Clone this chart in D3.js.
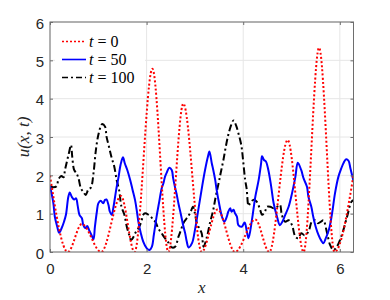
<!DOCTYPE html>
<html><head><meta charset="utf-8">
<script src="https://cdn.jsdelivr.net/npm/d3@7"></script>
<style>body{margin:0;background:#fff}</style>
</head><body><svg id="c" width="390" height="300"></svg>
<script>
const xTicks = [0, 2, 4, 6];
const yTicks = [0, 1, 2, 3, 4, 5, 6];
const legendLabels = ["t = 0", "t = 50", "t = 100"];

const redX = [0, 0.37, 0.66, 1.06, 1.47, 1.75, 2.12, 2.45, 2.76, 3.14, 3.47, 3.83, 4.25, 4.54, 4.92, 5.25, 5.57, 5.89, 6.283];
const redY = [2.0, 0, 0.73, 0, 1.46, 0, 4.78, 0, 3.87, 0, 1.11, 0, 0.85, 0, 2.92, 0, 5.33, 0, 2.0];

const blueX = [0.00,0.07,0.10,0.15,0.19,0.24,0.29,0.33,0.38,0.41,0.45,0.50,0.54,0.57,0.61,0.66,0.69,0.73,0.77,0.81,0.86,0.90,0.93,0.97,1.00,1.05,1.10,1.14,1.17,1.21,1.24,1.28,1.31,1.37,1.42,1.46,1.51,1.55,1.60,1.66,1.71,1.76,1.80,1.83,1.88,1.93,2.00,2.06,2.11,2.15,2.21,2.26,2.31,2.35,2.38,2.42,2.47,2.52,2.55,2.59,2.62,2.66,2.71,2.76,2.80,2.83,2.87,2.94,3.00,3.07,3.16,3.21,3.27,3.30,3.35,3.38,3.42,3.45,3.50,3.56,3.61,3.66,3.69,3.73,3.76,3.80,3.83,3.87,3.90,3.97,4.03,4.07,4.11,4.18,4.25,4.32,4.37,4.39,4.43,4.47,4.52,4.58,4.63,4.70,4.76,4.81,4.87,4.94,5.01,5.08,5.13,5.20,5.25,5.32,5.35,5.41,5.45,5.50,5.56,5.61,5.66,5.71,5.75,5.79,5.84,5.90,5.97,6.03,6.08,6.13,6.18,6.22,6.283];
const blueY = [1.72,1.27,0.92,0.66,0.50,0.62,0.79,0.97,1.44,1.55,1.44,1.37,1.40,1.23,0.97,0.88,0.70,0.62,0.68,0.57,0.44,0.33,0.66,1.05,1.27,1.34,1.27,1.36,1.37,1.23,1.05,0.97,1.14,1.62,1.96,2.27,2.47,2.31,2.14,1.88,1.62,1.36,1.05,0.79,0.49,0.27,0.10,0.05,0.14,0.45,0.95,1.30,1.65,1.80,1.96,2.08,2.20,2.14,1.92,1.68,1.52,1.26,0.98,0.68,0.48,0.28,0.12,0.23,0.57,1.10,1.79,2.14,2.49,2.62,2.31,2.14,1.88,1.62,1.27,0.92,0.79,0.92,1.05,1.14,1.05,1.10,1.01,0.92,0.70,0.66,0.77,0.57,0.36,0.83,1.44,1.88,2.31,2.50,2.40,2.36,2.14,1.70,1.27,0.92,0.70,0.79,0.97,1.18,1.53,1.96,2.33,2.14,1.92,1.70,1.44,1.18,0.92,0.66,0.44,0.31,0.23,0.36,0.49,0.66,1.01,1.53,1.96,2.18,2.33,2.42,2.38,2.18,1.85];

const blackX = [0.00,0.07,0.14,0.17,0.21,0.24,0.28,0.31,0.35,0.39,0.435,0.46,0.50,0.55,0.59,0.64,0.69,0.74,0.79,0.85,0.90,0.95,1.00,1.06,1.08,1.14,1.17,1.22,1.28,1.33,1.38,1.43,1.48,1.54,1.59,1.64,1.68,1.73,1.78,1.83,1.89,1.93,1.97,2.04,2.09,2.14,2.18,2.24,2.31,2.38,2.45,2.52,2.59,2.66,2.71,2.76,2.83,2.90,2.96,3.00,3.04,3.09,3.14,3.18,3.25,3.31,3.38,3.43,3.49,3.54,3.59,3.64,3.69,3.75,3.80,3.85,3.90,3.96,4.00,4.04,4.07,4.11,4.14,4.21,4.28,4.35,4.39,4.45,4.49,4.56,4.63,4.70,4.76,4.80,4.87,4.94,5.01,5.08,5.14,5.20,5.27,5.35,5.42,5.49,5.55,5.61,5.66,5.73,5.80,5.87,5.94,6.04,6.15,6.24,6.283];
const blackY = [1.72,1.69,1.72,1.88,1.96,1.98,1.95,2.14,2.36,2.57,2.79,2.49,2.14,2.05,1.92,1.66,1.57,1.49,1.62,1.69,2.05,2.66,3.05,3.31,3.34,3.27,3.01,2.75,2.44,2.23,1.88,1.62,1.18,0.97,0.66,0.44,0.31,0.40,0.53,0.62,0.79,0.97,1.01,0.97,0.92,0.83,0.79,0.62,0.49,0.36,0.25,0.12,0.14,0.40,0.57,0.75,0.88,1.01,1.18,1.01,0.75,0.62,0.49,0.14,0.40,0.75,1.10,1.44,1.79,2.10,2.40,2.75,3.05,3.31,3.43,3.31,3.10,2.79,2.36,1.88,1.66,1.20,1.27,1.36,1.31,1.10,0.97,1.05,1.18,1.18,1.14,1.18,1.23,0.97,0.79,0.83,0.70,0.40,0.36,0.49,0.44,0.53,0.79,0.83,0.75,0.79,0.83,0.53,0.18,0.05,0.14,0.44,0.92,1.31,1.35];

const svg = d3.select("#c");
const m = {l: 50, t: 22, r: 353.5, b: 252};
const x = d3.scaleLinear().domain([0, 2*Math.PI]).range([m.l, m.r]);
const y = d3.scaleLinear().domain([0, 6]).range([m.b, m.t]);

// grid
const g = svg.append("g");
g.selectAll(".gx").data(xTicks).enter().append("line")
  .attr("x1", d => x(d)).attr("x2", d => x(d)).attr("y1", m.t).attr("y2", m.b)
  .attr("stroke", "#e6e6e6").attr("stroke-width", 1);
g.selectAll(".gy").data(yTicks).enter().append("line")
  .attr("y1", d => y(d)).attr("y2", d => y(d)).attr("x1", m.l).attr("x2", m.r)
  .attr("stroke", "#e6e6e6").attr("stroke-width", 1);

svg.append("clipPath").attr("id", "clip").append("rect")
  .attr("x", m.l).attr("y", m.t).attr("width", m.r - m.l).attr("height", m.b - m.t);

const plot = svg.append("g").attr("clip-path", "url(#clip)");
const mk = (xs, ys) => xs.map((v, i) => [v, ys[i]]);
const lineSmooth = d3.line().x(d => x(d[0])).y(d => y(d[1])).curve(d3.curveMonotoneX);
const lineRough = d3.line().x(d => x(d[0])).y(d => y(d[1])).curve(d3.curveCatmullRom.alpha(0.5));

plot.append("path").attr("d", lineRough(mk(blackX, blackY)))
  .attr("fill", "none").attr("stroke", "#000").attr("stroke-width", 2)
  .attr("stroke-dasharray", "7,3,2,3");
plot.append("path").attr("d", lineRough(mk(blueX, blueY)))
  .attr("fill", "none").attr("stroke", "#0000ff").attr("stroke-width", 2);
plot.append("path").attr("d", lineSmooth(mk(redX, redY)))
  .attr("fill", "none").attr("stroke", "#ff0000").attr("stroke-width", 2)
  .attr("stroke-dasharray", "2,2.2");

// axes box and ticks
const axCol = "#6e6e6e";
svg.append("rect").attr("x", m.l).attr("y", m.t).attr("width", m.r - m.l).attr("height", m.b - m.t)
  .attr("fill", "none").attr("stroke", axCol).attr("stroke-width", 1);
const fmt = d3.format("d");
const xb = d3.axisBottom(x).tickValues(xTicks).tickFormat(fmt).tickSizeInner(-3).tickSizeOuter(0).tickPadding(11);
const xt = d3.axisTop(x).tickValues(xTicks).tickSizeInner(-3).tickSizeOuter(0).tickFormat("");
const yl = d3.axisLeft(y).tickValues(yTicks).tickFormat(fmt).tickSizeInner(-3).tickSizeOuter(0).tickPadding(6);
const yr = d3.axisRight(y).tickValues(yTicks).tickSizeInner(-3).tickSizeOuter(0).tickFormat("");
function style(sel) {
  sel.select(".domain").remove();
  sel.selectAll("line").attr("stroke", axCol);
  sel.selectAll("text").attr("fill", "#262626").style("font-family", "'Liberation Sans', Arial, sans-serif").style("font-size", "15px");
}
svg.append("g").attr("transform", `translate(0,${m.b})`).call(xb).call(style);
svg.append("g").attr("transform", `translate(0,${m.t})`).call(xt).call(style);
svg.append("g").attr("transform", `translate(${m.l},0)`).call(yl).call(style).selectAll("text").attr("dy", "0.42em");
svg.append("g").attr("transform", `translate(${m.r},0)`).call(yr).call(style);

// axis labels
const mathFont = "'Liberation Serif', 'Times New Roman', serif";
svg.append("text").attr("x", (m.l + m.r)/2).attr("y", 293).attr("text-anchor", "middle")
  .style("font-family", mathFont).style("font-style", "italic").style("font-size", "17px").attr("fill", "#262626").text("x");
svg.append("text").attr("transform", `translate(29,137) rotate(-90)`).attr("text-anchor", "middle")
  .style("font-family", mathFont).style("font-style", "italic").style("font-size", "17px").attr("fill", "#262626").text("u(x, t)");

// legend
svg.append("rect").attr("x", 55).attr("y", 31).attr("width", 90).attr("height", 56).attr("fill", "#fff");
const legStyles = [
  {c: "#ff0000", d: "2,2"},
  {c: "#0000ff", d: null},
  {c: "#000000", d: "6,3,2,3"}
];
const legY = [41.5, 59.5, 77.5];
legendLabels.forEach((lab, i) => {
  const ln = svg.append("line").attr("x1", 62).attr("x2", 86).attr("y1", legY[i]).attr("y2", legY[i])
    .attr("stroke", legStyles[i].c).attr("stroke-width", 1.6);
  if (legStyles[i].d) ln.attr("stroke-dasharray", legStyles[i].d);
  const parts = lab.split(" = ");
  const t = svg.append("text").attr("x", 89).attr("y", legY[i] + 5)
    .style("font-family", mathFont).style("font-size", "16px").attr("fill", "#000");
  t.append("tspan").style("font-style", "italic").text(parts[0]);
  t.append("tspan").text(" = " + parts[1]);
});
</script></body></html>
